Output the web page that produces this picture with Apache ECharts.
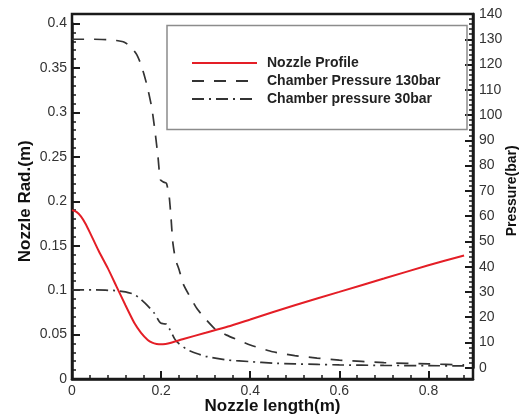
<!DOCTYPE html>
<html>
<head>
<meta charset="utf-8">
<script src="https://cdn.jsdelivr.net/npm/echarts@6/dist/echarts.min.js"></script>
<style>
html,body{margin:0;padding:0;background:#fff;}
#c{width:523px;height:416px;}
</style>
</head>
<body>
<div id="c"></div>
<script>
// Nozzle profile: x (m) and radius (m)
const nozzleX = [0, 0.01, 0.02, 0.03, 0.04, 0.06, 0.08, 0.1, 0.12, 0.14, 0.155, 0.17, 0.18, 0.19, 0.2, 0.21, 0.22, 0.25, 0.3, 0.35, 0.4, 0.5, 0.6, 0.7, 0.8, 0.88];
const nozzleR = [0.19, 0.188, 0.183, 0.175, 0.165, 0.144, 0.125, 0.104, 0.083, 0.063, 0.052, 0.044, 0.041, 0.0395, 0.039, 0.0395, 0.0405, 0.045, 0.052, 0.059, 0.067, 0.083, 0.098, 0.113, 0.128, 0.139];
// Chamber pressure 130 bar
const p130X = [0, 0.05, 0.08, 0.1, 0.115, 0.13, 0.145, 0.155, 0.168, 0.179, 0.186, 0.193, 0.198, 0.205, 0.212, 0.218, 0.222, 0.226, 0.232, 0.24, 0.25, 0.265, 0.28, 0.295, 0.32, 0.347, 0.4, 0.45, 0.5, 0.55, 0.6, 0.7, 0.8, 0.88];
const p130 = [130, 130, 129.8, 129.5, 129, 127.5, 124, 120, 112, 103, 94, 83.5, 74.5, 73.5, 73, 68, 60, 50, 43, 39, 33, 28, 23.5, 20.2, 15.5, 12.9, 9, 6.3, 4.8, 3.8, 3.0, 2.0, 1.5, 1.1];
// Chamber pressure 30 bar
const p30X = [0, 0.05, 0.1, 0.12, 0.14, 0.155, 0.17, 0.185, 0.195, 0.2, 0.205, 0.212, 0.22, 0.23, 0.24, 0.26, 0.28, 0.3, 0.35, 0.4, 0.45, 0.5, 0.55, 0.6, 0.7, 0.8, 0.88];
const p30 = [30.8, 30.8, 30.5, 30, 29, 27, 24.5, 21.5, 18.5, 17.6, 17.4, 17.2, 15, 11.5, 9.5, 7, 5.6, 4.5, 3, 2.4, 1.8, 1.5, 1.3, 1.1, 0.9, 0.8, 0.7];

const seriesNames = ['Nozzle Profile', 'Chamber Pressure 130bar', 'Chamber pressure 30bar'];
const xTickLabels = ['0', '0.2', '0.4', '0.6', '0.8'];

const zip = (xs, ys) => xs.map((x, i) => [x, ys[i]]);

const AX = '#1a1a1a';
const LBL = '#333';
const FONT = 'Liberation Sans, Arial, sans-serif';
const GRID_COMMON = {left: 72, right: 50, containLabel: false, outerBoundsMode: 'none'};

const chart = echarts.init(document.getElementById('c'), null, {renderer: 'canvas'});
chart.setOption({
  animation: false,
  backgroundColor: '#fff',
  grid: [
    Object.assign({top: 14, bottom: 37, show: true, borderColor: AX, borderWidth: 2.5, backgroundColor: 'transparent'}, GRID_COMMON),
    Object.assign({top: 23.5, bottom: 37}, GRID_COMMON),
    Object.assign({top: 14, bottom: 48.3}, GRID_COMMON)
  ],
  xAxis: [
    {
      gridIndex: 0, type: 'value', min: 0, max: 0.9, interval: 0.2, position: 'bottom',
      axisLine: {show: true, onZero: false, lineStyle: {color: AX, width: 2.5}},
      axisTick: {show: true, inside: true, length: 8, lineStyle: {color: AX, width: 2}},
      axisLabel: {show: true, margin: 5, color: LBL, fontSize: 14, fontFamily: FONT, showMaxLabel: false,
        formatter: v => { const i = Math.round(v / 0.2); return xTickLabels[i] !== undefined ? xTickLabels[i] : ''; }},
      splitLine: {show: false},
      name: 'Nozzle length(m)', nameLocation: 'middle', nameGap: 19, nameMoveOverlap: false,
      nameTextStyle: {color: '#111', fontSize: 17, fontWeight: 'bold', fontFamily: FONT}
    },
    {
      gridIndex: 1, type: 'value', min: 0, max: 0.9, interval: 0.04, position: 'bottom',
      axisLine: {show: false, onZero: false},
      axisTick: {show: true, inside: true, length: 4, lineStyle: {color: AX, width: 1.5}},
      axisLabel: {show: false}, splitLine: {show: false}
    },
    {gridIndex: 2, type: 'value', min: 0, max: 0.9, show: false, axisLine: {onZero: false}}
  ],
  yAxis: [
    {gridIndex: 0, type: 'value', min: 0, max: 1, show: false, axisLine: {onZero: false}},
    {
      gridIndex: 1, type: 'value', min: 0, max: 0.4, interval: 0.05, position: 'left',
      axisLine: {show: true, onZero: false, lineStyle: {color: AX, width: 2.5}},
      axisTick: {show: true, inside: true, length: 8, lineStyle: {color: AX, width: 2}},
      minorTick: {show: true, splitNumber: 5, length: 4, lineStyle: {color: AX, width: 1.5}},
      axisLabel: {show: true, margin: 5, color: LBL, fontSize: 14, fontFamily: FONT,
        formatter: v => String(parseFloat(v.toFixed(2)))},
      splitLine: {show: false}, minorSplitLine: {show: false},
      name: 'Nozzle Rad.(m)', nameLocation: 'middle', nameRotate: 90, nameGap: 38.5, nameMoveOverlap: false,
      nameTextStyle: {color: '#111', fontSize: 17, fontWeight: 'bold', fontFamily: FONT}
    },
    {
      gridIndex: 2, type: 'value', min: 0, max: 140, interval: 10, position: 'right',
      axisLine: {show: true, onZero: false, lineStyle: {color: AX, width: 2.5}},
      axisTick: {show: true, inside: true, length: 8, lineStyle: {color: AX, width: 2}},
      minorTick: {show: true, splitNumber: 5, length: 4, lineStyle: {color: AX, width: 1.5}},
      axisLabel: {show: true, margin: 6, color: LBL, fontSize: 14, fontFamily: FONT},
      splitLine: {show: false}, minorSplitLine: {show: false},
      name: 'Pressure(bar)', nameLocation: 'middle', nameRotate: 90, nameGap: 32, nameMoveOverlap: false,
      nameTextStyle: {color: '#111', fontSize: 14, fontWeight: 'bold', fontFamily: FONT}
    }
  ],
  legend: {
    show: true, orient: 'vertical', left: 191, top: 56, padding: 0,
    itemWidth: 65, itemHeight: 14, itemGap: 4,
    data: seriesNames,
    itemStyle: {color: 'rgba(0,0,0,0)', borderWidth: 0, opacity: 0},
    textStyle: {color: '#222', fontSize: 14, fontWeight: 'bold', fontFamily: FONT, padding: [0, 0, 0, 5]}
  },
  graphic: [
    {type: 'rect', shape: {x: 167, y: 25.5, width: 300, height: 104},
     style: {fill: 'none', stroke: '#8c8c8c', lineWidth: 1.5}, z: 5}
  ],
  series: [
    {
      name: seriesNames[0], type: 'line', xAxisIndex: 1, yAxisIndex: 1,
      data: zip(nozzleX, nozzleR), symbol: 'none', smooth: 0.2,
      lineStyle: {color: '#e41e26', width: 2}, itemStyle: {color: '#e41e26'}, z: 4
    },
    {
      name: seriesNames[1], type: 'line', xAxisIndex: 2, yAxisIndex: 2,
      data: zip(p130X, p130), symbol: 'none', smooth: 0.15,
      lineStyle: {color: '#333', width: 1.7, type: [12, 10]}, itemStyle: {color: '#333'}
    },
    {
      name: seriesNames[2], type: 'line', xAxisIndex: 2, yAxisIndex: 2,
      data: zip(p30X, p30), symbol: 'none', smooth: 0.15,
      lineStyle: {color: '#333', width: 1.7, type: [12, 5, 2, 5]}, itemStyle: {color: '#333'}
    }
  ]
});
</script>
</body>
</html>
